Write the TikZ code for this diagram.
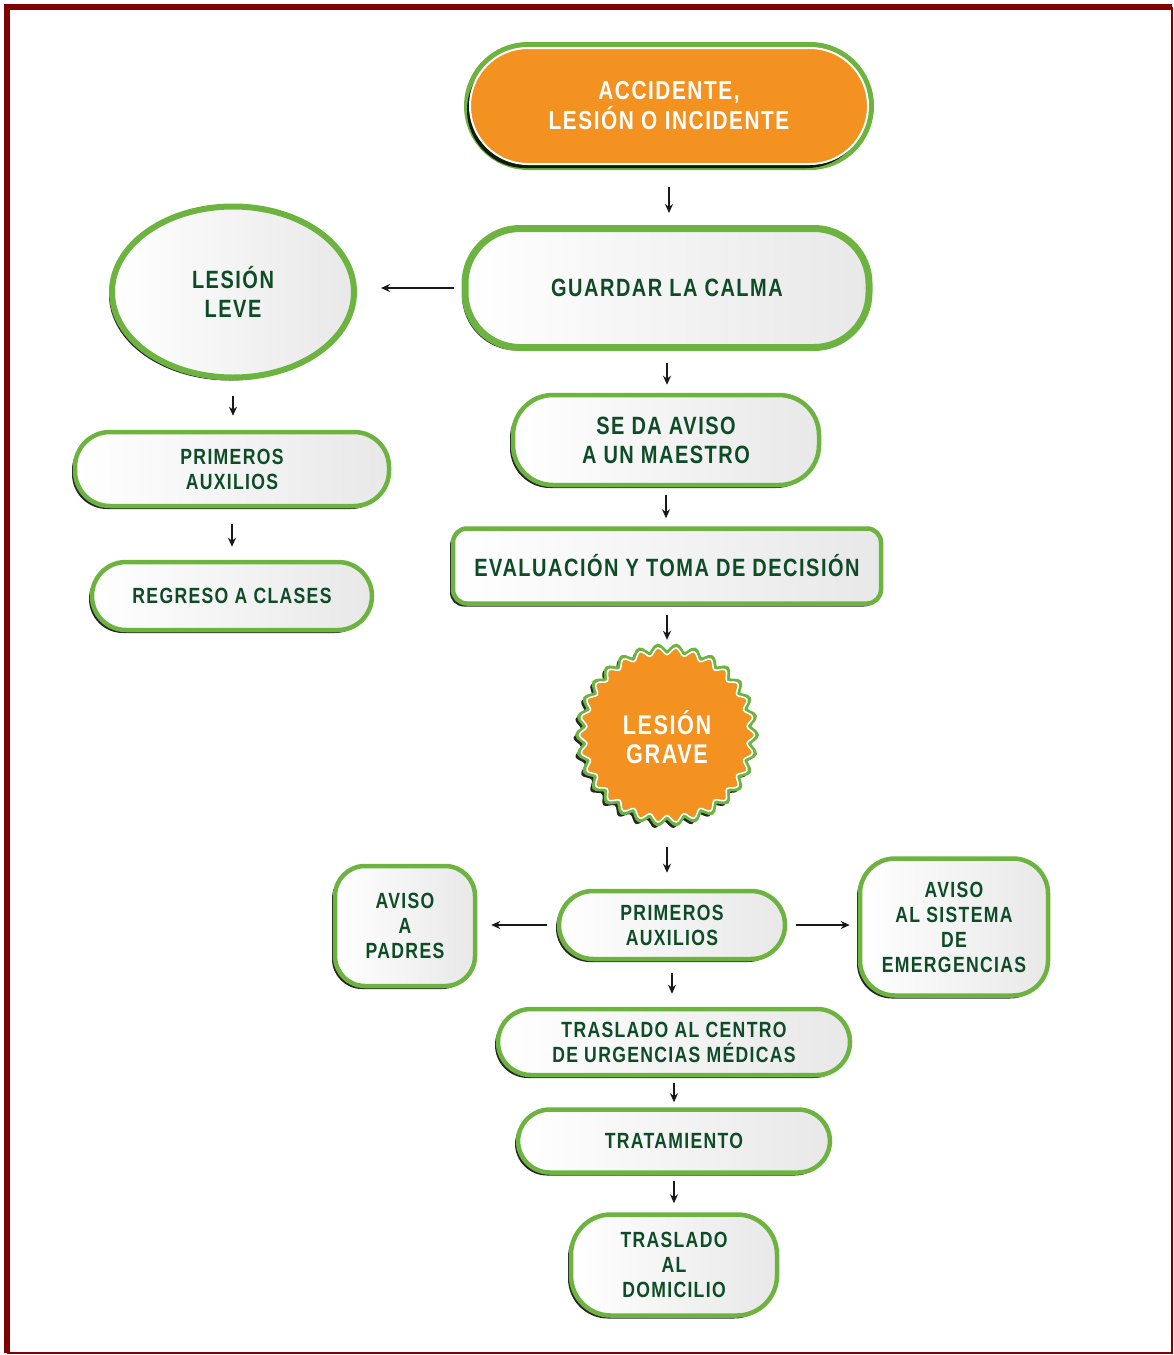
\documentclass[tikz,border=0pt]{standalone}
\usepackage{fontspec}
\usetikzlibrary{shapes.geometric,shadows,arrows.meta}
\newfontfamily\lbl{Liberation Sans}[FakeStretch=0.8, LetterSpace=6]
\definecolor{grn}{HTML}{6CB33F}
\definecolor{tgreen}{HTML}{0E4B27}
\definecolor{org}{HTML}{F39121}
\definecolor{frame}{HTML}{800000}
\tikzset{
  base/.style={draw=grn, line width=4.5pt, left color=white, right color=black!9,
    align=center, text=tgreen, font=\lbl\bfseries\fontsize{22}{25}\selectfont,
    drop shadow={shadow xshift=-3pt, shadow yshift=-3pt, opacity=0.85, fill=black},
    inner sep=0pt},
  big/.style={font=\lbl\bfseries\fontsize{25}{29}\selectfont},
  orangebox/.style={fill=org, draw=white, line width=2pt, text=white,
    preaction={draw=grn, line width=12pt},
    drop shadow={shadow xshift=-3pt, shadow yshift=-4pt, opacity=0.85, fill=black},
    align=center, font=\lbl\bfseries\fontsize{26}{30}\selectfont, inner sep=0pt},
  arr/.style={-{Stealth[length=9pt,width=8pt]}, line width=2.4pt, black!90}
}
\begin{document}
\begin{tikzpicture}[x=1pt,y=-1pt]
\useasboundingbox (0,0) rectangle (1174,1355);
\fill[white] (0,0) rectangle (1174,1355);
\draw[frame, line width=6pt] (7,1353) -- (7,7) -- (1172,7);
\draw[frame, line width=2.5pt] (1172,7) -- (1172,1353) -- (7,1353);

% nodes
\node[orangebox, rectangle, rounded corners=58pt, minimum width=398pt, minimum height=116pt] (acc) at (669,106) {ACCIDENTE,\\LESIÓN O INCIDENTE};
\node[base, big, line width=7pt, rounded corners=55pt, minimum width=404pt, minimum height=119pt] (calma) at (667,288) {GUARDAR LA CALMA};
\node[base, big, ellipse, line width=6pt, minimum width=242pt, minimum height=171pt] (leve) at (233,292) {LESIÓN\\LEVE};
\node[base, big, rounded corners=40pt, minimum width=306pt, minimum height=90pt] (maestro) at (666,440) {SE DA AVISO\\A UN MAESTRO};
\node[base, big, rounded corners=14pt, minimum width=428pt, minimum height=75pt] (eval) at (667,566) {EVALUACIÓN Y TOMA DE DECISIÓN};
\node[base, rounded corners=35pt, minimum width=314pt, minimum height=74pt] (prim1) at (232,469) {PRIMEROS\\AUXILIOS};
\node[base, rounded corners=34pt, minimum width=280pt, minimum height=68pt] (regreso) at (232,596) {REGRESO A CLASES};

% starburst
\fill[black, opacity=0.85] plot[smooth cycle, variable=\t, samples=240, domain=0:358.5]
  ({664+(87+3.5*cos(30*\t))*cos(\t)}, {738+(87+3.5*cos(30*\t))*sin(\t)});
\filldraw[fill=org, draw=grn, line width=4.5pt] plot[smooth cycle, variable=\t, samples=240, domain=0:358.5]
  ({667+(86+3.5*cos(30*\t))*cos(\t)}, {735+(86+3.5*cos(30*\t))*sin(\t)});
\draw[white, line width=1.6pt] plot[smooth cycle, variable=\t, samples=240, domain=0:358.5]
  ({667+(84+3.5*cos(30*\t))*cos(\t)}, {735+(84+3.5*cos(30*\t))*sin(\t)});
\node[circle, minimum size=176pt, inner sep=0pt, text=white, align=center,
  font=\lbl\bfseries\fontsize{27}{29}\selectfont] (grave) at (667,737) {LESIÓN\\GRAVE};

\node[base, rounded corners=34pt, minimum width=226pt, minimum height=68pt] (prim2) at (672,925) {PRIMEROS\\AUXILIOS};
\node[base, rounded corners=30pt, minimum width=140pt, minimum height=120pt] (padres) at (405,926) {AVISO\\A\\PADRES};
\node[base, rounded corners=35pt, minimum width=188pt, minimum height=137pt] (emerg) at (954,927) {AVISO\\AL SISTEMA\\DE\\EMERGENCIAS};
\node[base, rounded corners=33pt, minimum width=352pt, minimum height=66pt] (centro) at (674,1042) {TRASLADO AL CENTRO\\DE URGENCIAS MÉDICAS};
\node[base, rounded corners=32pt, minimum width=312pt, minimum height=63pt] (trat) at (674,1141) {TRATAMIENTO};
\node[base, rounded corners=40pt, minimum width=206pt, minimum height=101pt] (domi) at (674,1265) {TRASLADO\\AL\\DOMICILIO};

% arrows
\draw[arr, shorten <=22pt, shorten >=12pt] (acc.south) -- (acc.south |- calma.north);
\draw[arr, shorten <=8pt, shorten >=24pt] (calma.west) -- (calma.west -| leve.east);
\draw[arr, shorten <=12pt, shorten >=8pt] (calma.south) -- (calma.south |- maestro.north);
\draw[arr, shorten <=8pt, shorten >=8pt] (maestro.south) -- (maestro.south |- eval.north);
\draw[arr, shorten <=9pt, shorten >=9pt] (eval.south) -- (eval.south |- grave.north);
\draw[arr, shorten <=15pt, shorten >=14pt] (leve.south) -- (leve.south |- prim1.north);
\draw[arr, shorten <=16pt, shorten >=13pt] (prim1.south) -- (prim1.south |- regreso.north);
\draw[arr, shorten <=22pt, shorten >=16pt] (grave.south) -- (grave.south |- prim2.north);
\draw[arr, shorten <=10pt, shorten >=14pt] (prim2.west) -- (prim2.west -| padres.east);
\draw[arr, shorten <=9pt, shorten >=8pt] (prim2.east) -- (prim2.east -| emerg.west);
\draw[arr, shorten <=12pt, shorten >=13pt] (prim2.south) -- (prim2.south |- centro.north);
\draw[arr, shorten <=6pt, shorten >=5pt] (centro.south) -- (centro.south |- trat.north);
\draw[arr, shorten <=6pt, shorten >=9pt] (trat.south) -- (trat.south |- domi.north);
\end{tikzpicture}
\end{document}
